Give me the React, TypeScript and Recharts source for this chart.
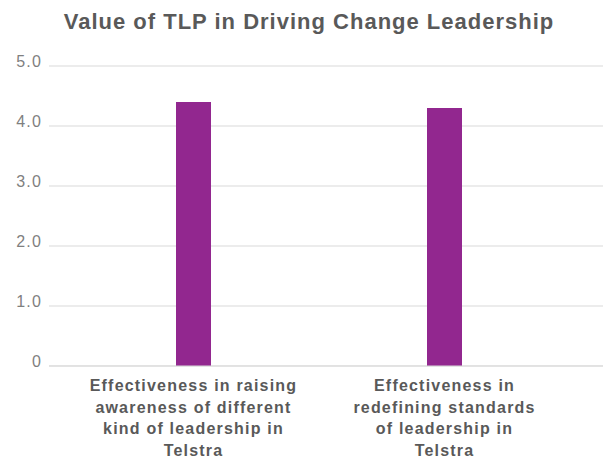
import React from "react";
import { BarChart, Bar, XAxis, YAxis, CartesianGrid } from "recharts";

const categories = [
  "Effectiveness in raising awareness of different kind of leadership in Telstra",
  "Effectiveness in redefining standards of leadership in Telstra",
];
const categoryLines = [
  ["Effectiveness in raising", "awareness of different", "kind of leadership in", "Telstra"],
  ["Effectiveness in", "redefining standards", "of leadership in", "Telstra"],
];
const values = [4.4, 4.3];
const yTicks = [0, 1, 2, 3, 4, 5];
const title = "Value of TLP in Driving Change Leadership";

const data = categories.map((c, i) => ({ name: c, value: values[i] }));

const XTick = (props: any) => {
  const { x, y, payload } = props;
  const idx = categories.indexOf(payload.value);
  const lines = idx >= 0 ? categoryLines[idx] : [String(payload.value)];
  return (
    <text
      x={x}
      y={y + 17}
      textAnchor="middle"
      fill="#595959"
      fontFamily="Liberation Sans, Arial, sans-serif"
      fontWeight="bold"
      fontSize={16}
      letterSpacing={1.2}
    >
      {lines.map((l, i) => (
        <tspan key={i} x={x} dy={i === 0 ? 0 : 21.5}>
          {l}
        </tspan>
      ))}
    </text>
  );
};

const YTick = (props: any) => {
  const { x, y, payload } = props;
  const v = payload.value as number;
  return (
    <text
      x={x + 1}
      y={y + 1}
      textAnchor="end"
      fill="#7f7f7f"
      fontFamily="Liberation Sans, Arial, sans-serif"
      fontSize={16}
      letterSpacing={1.2}
    >
      {v === 0 ? "0" : v.toFixed(1)}
    </text>
  );
};

export default function App() {
  return (
    <div style={{ position: "absolute", left: 0, top: 0, width: 603, height: 457, background: "#fff" }}>
      <div
        style={{
          position: "absolute",
          left: 0,
          top: 8,
          width: 618,
          textAlign: "center",
          fontFamily: "Liberation Sans, Arial, sans-serif",
          fontWeight: "bold",
          fontSize: 22,
          letterSpacing: 1,
          color: "#595959",
          lineHeight: "28px",
        }}
      >
        {title}
      </div>
      <BarChart
        width={603}
        height={457}
        data={data}
        margin={{ top: 66, right: 0, bottom: 0, left: 0 }}
      >
        <CartesianGrid vertical={false} stroke="#d9d9d9" strokeWidth={1} />
        <XAxis
          dataKey="name"
          height={91}
          axisLine={{ stroke: "#d9d9d9" }}
          tickLine={false}
          tick={<XTick />}
          interval={0}
          padding={{ left: 19, right: 33 }}
        />
        <YAxis
          width={49}
          domain={[0, 5]}
          ticks={yTicks}
          axisLine={false}
          tickLine={false}
          tick={<YTick />}
        />
        <Bar dataKey="value" fill="#92278f" barSize={35} isAnimationActive={false} />
      </BarChart>
    </div>
  );
}
